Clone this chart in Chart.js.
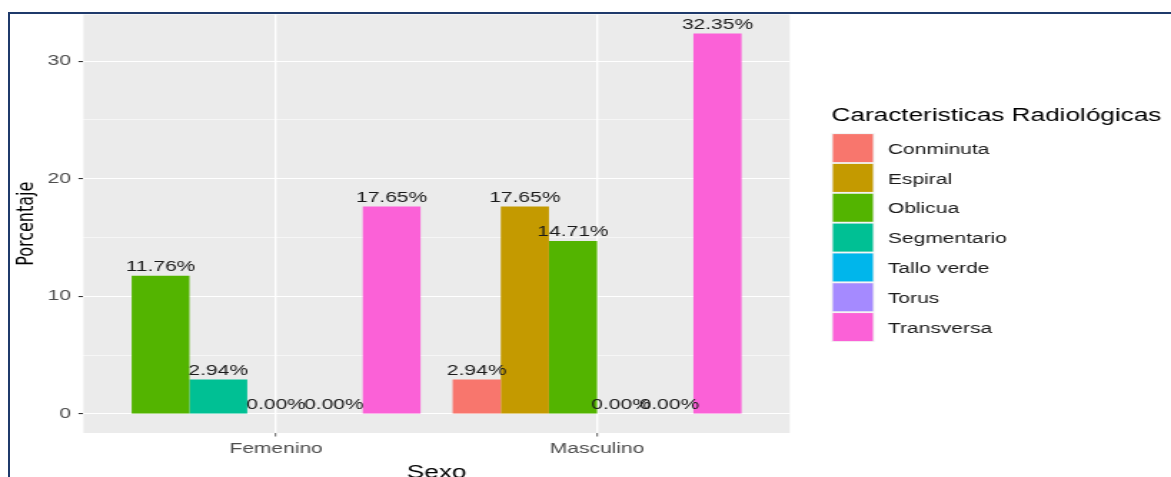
<!DOCTYPE html>
<html>
<head>
<meta charset="utf-8">
<script src="https://cdn.jsdelivr.net/npm/chart.js@4.4.1/dist/chart.umd.min.js"></script>
<style>
  html, body { margin: 0; padding: 0; background: #fff; overflow: hidden; }
  #wrap { position: relative; width: 1171px; height: 477px; }
  #chart { position: absolute; left: 0; top: 0; }
  .frame { position: absolute; left: 7.5px; top: 12px; width: 1300px; height: 700px;
           border: 2px solid #1F3A6B; pointer-events: none; }
</style>
</head>
<body>
<div id="wrap">
  <!-- the source picture is stretched sideways, so the canvas is drawn narrow and widened by css -->
  <canvas id="chart" width="819" height="477" style="width:1171px;height:477px"></canvas>
  <div class="frame"></div>
</div>
<script>
var sexo = ["Femenino", "Masculino"];
var tipos = ["Conminuta", "Espiral", "Oblicua", "Segmentario", "Tallo verde", "Torus", "Transversa"];
var colores = ["#F8766D", "#C49A00", "#53B400", "#00C094", "#00B6EB", "#A58AFF", "#FB61D7"];
// porcentaje por tipo, null = no aparece en ese grupo
var femenino = [null, null, 11.76, 2.94, 0, 0, 17.65];
var masculino = [2.94, 17.65, 14.71, null, 0, 0, 32.35];
var yTicks = [0, 5, 10, 15, 20, 25, 30];
var legendTitle = "Caracteristicas Radiológicas";

var FONT = '"Liberation Sans", Arial, sans-serif';
Chart.defaults.font.family = FONT;

var grupos = [femenino, masculino];
var maxVal = Math.max.apply(null, femenino.concat(masculino));
var expand = maxVal * 0.05;

var datasets = tipos.map(function (t, i) {
  return {
    label: t,
    data: sexo.map(function (s, j) { return { x: j + 1, y: grupos[j][i] }; }),
    backgroundColor: colores[i],
    borderWidth: 0,
    categoryPercentage: 0.9,
    barPercentage: 1,
    skipNull: true
  };
});

var panelBg = {
  id: "panelBg",
  beforeDraw: function (chart) {
    var ctx = chart.ctx, a = chart.chartArea;
    ctx.save();
    ctx.fillStyle = "#FFFFFF";
    ctx.fillRect(0, 0, chart.width, chart.height);
    ctx.fillStyle = "#EBEBEB";
    ctx.fillRect(a.left, a.top, a.right - a.left, a.bottom - a.top);
    ctx.restore();
  }
};

var barLabels = {
  id: "barLabels",
  afterDatasetsDraw: function (chart) {
    var ctx = chart.ctx;
    ctx.save();
    ctx.font = "14.7px " + FONT;
    ctx.fillStyle = "#1A1A1A";
    ctx.textAlign = "center";
    ctx.textBaseline = "alphabetic";
    chart.data.datasets.forEach(function (ds, i) {
      var meta = chart.getDatasetMeta(i);
      meta.data.forEach(function (bar, j) {
        var v = ds.data[j].y;
        if (v === null) return;
        ctx.fillText(v.toFixed(2) + "%", bar.x, bar.y - 4.8);
      });
    });
    ctx.restore();
  }
};

var fillLegend = {
  id: "fillLegend",
  afterDraw: function (chart) {
    var ctx = chart.ctx;
    ctx.save();
    ctx.textAlign = "left";
    ctx.textBaseline = "middle";
    ctx.fillStyle = "#000000";
    ctx.font = "18.3px " + FONT;
    ctx.fillText(legendTitle, 581.6, 116.3);
    ctx.font = "14.7px " + FONT;
    tipos.forEach(function (t, i) {
      var top = 133.2 + i * 29.83;
      ctx.fillStyle = "#F2F2F2";
      ctx.fillRect(581.3, top, 30.4, 29.83);
      ctx.fillStyle = colores[i];
      ctx.fillRect(582.5, top + 0.9, 28, 28);
      ctx.fillStyle = "#1A1A1A";
      ctx.fillText(t, 621, top + 16.5);
    });
    ctx.restore();
  }
};

var isMajor = function (c) { return c.tick && c.tick.value % 10 === 0; };

new Chart(document.getElementById("chart"), {
  type: "bar",
  data: { datasets: datasets },
  options: {
    responsive: false,
    animation: false,
    layout: { padding: { top: 14.5, left: 0, right: 266.7, bottom: 0 } },
    plugins: { legend: { display: false }, tooltip: { enabled: false } },
    scales: {
      x: {
        type: "linear",
        min: 0.4,
        max: 2.6,
        offset: false,
        afterBuildTicks: function (s) { s.ticks = sexo.map(function (n, j) { return { value: j + 1 }; }); },
        afterFit: function (s) { s.height = 44; },
        ticks: {
          callback: function (v) { return sexo[v - 1]; },
          color: "#4D4D4D", font: { size: 14.7 }, padding: 3.9,
          maxRotation: 0, autoSkip: false
        },
        grid: { offset: false, color: "#FFFFFF", lineWidth: 1.4, tickColor: "#333333", tickLength: 3.5, tickWidth: 0.8 },
        border: { display: false },
        title: { display: true, text: "Sexo", color: "#000000", font: { size: 18.3 }, padding: { top: 0, bottom: -6.5 } }
      },
      y: {
        min: -expand,
        max: maxVal + expand,
        afterBuildTicks: function (s) { s.ticks = yTicks.map(function (v) { return { value: v }; }); },
        afterFit: function (s) { s.width = 58.4; },
        ticks: {
          callback: function (v) { return v % 10 === 0 ? v : ""; },
          color: "#4D4D4D", font: { size: 14.7 }, padding: 5.2
        },
        grid: {
          color: "#FFFFFF",
          lineWidth: function (c) { return isMajor(c) ? 1.1 : 0.55; },
          tickColor: function (c) { return isMajor(c) ? "#333333" : "rgba(0,0,0,0)"; },
          tickLength: 3.5, tickWidth: 1.1
        },
        border: { display: false },
        title: { display: true, text: "Porcentaje", color: "#000000", font: { family: "DejaVu Sans", size: 16 }, padding: { top: 9.3, bottom: 0 } }
      }
    }
  },
  plugins: [panelBg, barLabels, fillLegend]
});
</script>
</body>
</html>
